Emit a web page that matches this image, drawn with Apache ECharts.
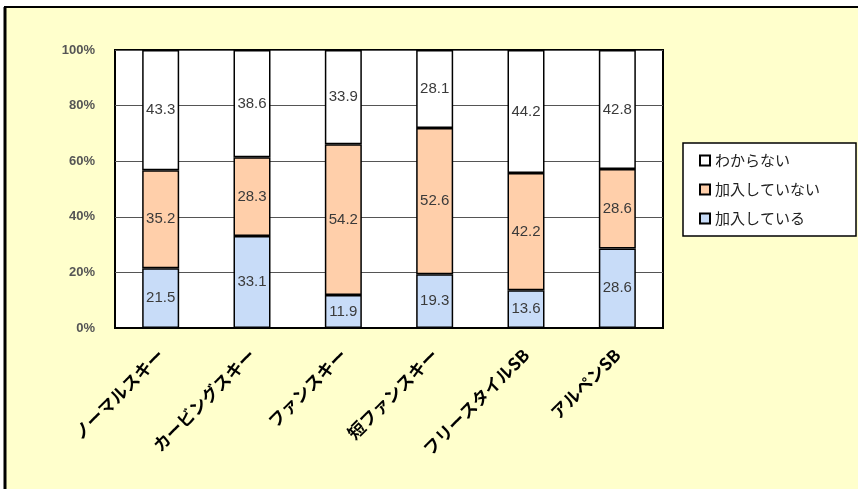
<!DOCTYPE html>
<html>
<head>
<meta charset="utf-8">
<script src="https://cdn.jsdelivr.net/npm/echarts@6/dist/echarts.min.js"></script>
<style>
html,body{margin:0;padding:0;background:#fff;}
#c{width:858px;height:489px;}
</style>
</head>
<body>
<div id="c"></div>
<script>
const categories = ['ノーマルスキー','カービングスキー','ファンスキー','短ファンスキー','フリースタイルSB','アルペンSB'];
const joined = [21.5, 33.1, 11.9, 19.3, 13.6, 28.6];
const notJoined = [35.2, 28.3, 54.2, 52.6, 42.2, 28.6];
const unknown = [43.3, 38.6, 33.9, 28.1, 44.2, 42.8];
const yTicks = ['0%','20%','40%','60%','80%','100%'];

const chart = echarts.init(document.getElementById('c'));
const labelStyle = {show:true, position:'inside', color:'#3a3a3a', fontSize:15, fontFamily:'Liberation Sans, Arial, sans-serif'};
const barItem = c => ({color:c, borderColor:'#000', borderWidth:1.5});
chart.setOption({
  backgroundColor:'#fff',
  animation:false,
  graphic:[
    {type:'rect', z:-1, shape:{x:5,y:7,width:870,height:500}, style:{fill:'#FFFFCC', stroke:'#000', lineWidth:2}},
    {type:'line', z:-1, shape:{x1:5,y1:7,x2:5,y2:489}, style:{stroke:'#000', lineWidth:3}}
  ],
  grid:{left:115, right:195, top:50, bottom:161, show:true, backgroundColor:'#fff', borderColor:'#000', borderWidth:2},
  legend:{
    orient:'vertical', left:683, top:143,
    data:['わからない','加入していない','加入している'],
    backgroundColor:'#fff', borderColor:'#000', borderWidth:1.5,
    padding:[10, 36, 10, 16],
    itemWidth:10, itemHeight:10, itemGap:14,
    icon:'rect',
    textStyle:{fontSize:15, color:'#222', fontFamily:'Noto Sans CJK JP'}
  },
  xAxis:{
    type:'category', data:categories,
    axisLine:{lineStyle:{color:'#000', width:2}},
    axisTick:{inside:true, length:4, lineStyle:{color:'#000'}},
    axisLabel:{rotate:45, margin:24, fontSize:17, fontWeight:'bold', color:'#000', fontFamily:'Noto Sans CJK JP', interval:0}
  },
  yAxis:{
    type:'value', min:0, max:100, interval:20,
    axisLine:{show:false}, axisTick:{show:false},
    axisLabel:{margin:20, fontSize:13, fontWeight:'bold', color:'#555', fontFamily:'Liberation Sans, Arial, sans-serif',
      formatter:(v)=>yTicks[Math.round(v/20)]},
    splitLine:{lineStyle:{color:'#555', width:1}}
  },
  series:[
    {name:'加入している', type:'bar', stack:'a', barWidth:37, data:joined, itemStyle:barItem('#C8DCF8'), label:labelStyle},
    {name:'加入していない', type:'bar', stack:'a', data:notJoined, itemStyle:barItem('#FFCFAA'), label:labelStyle},
    {name:'わからない', type:'bar', stack:'a', data:unknown, itemStyle:barItem('#FFFFFF'), label:labelStyle}
  ]
});
</script>
</body>
</html>
